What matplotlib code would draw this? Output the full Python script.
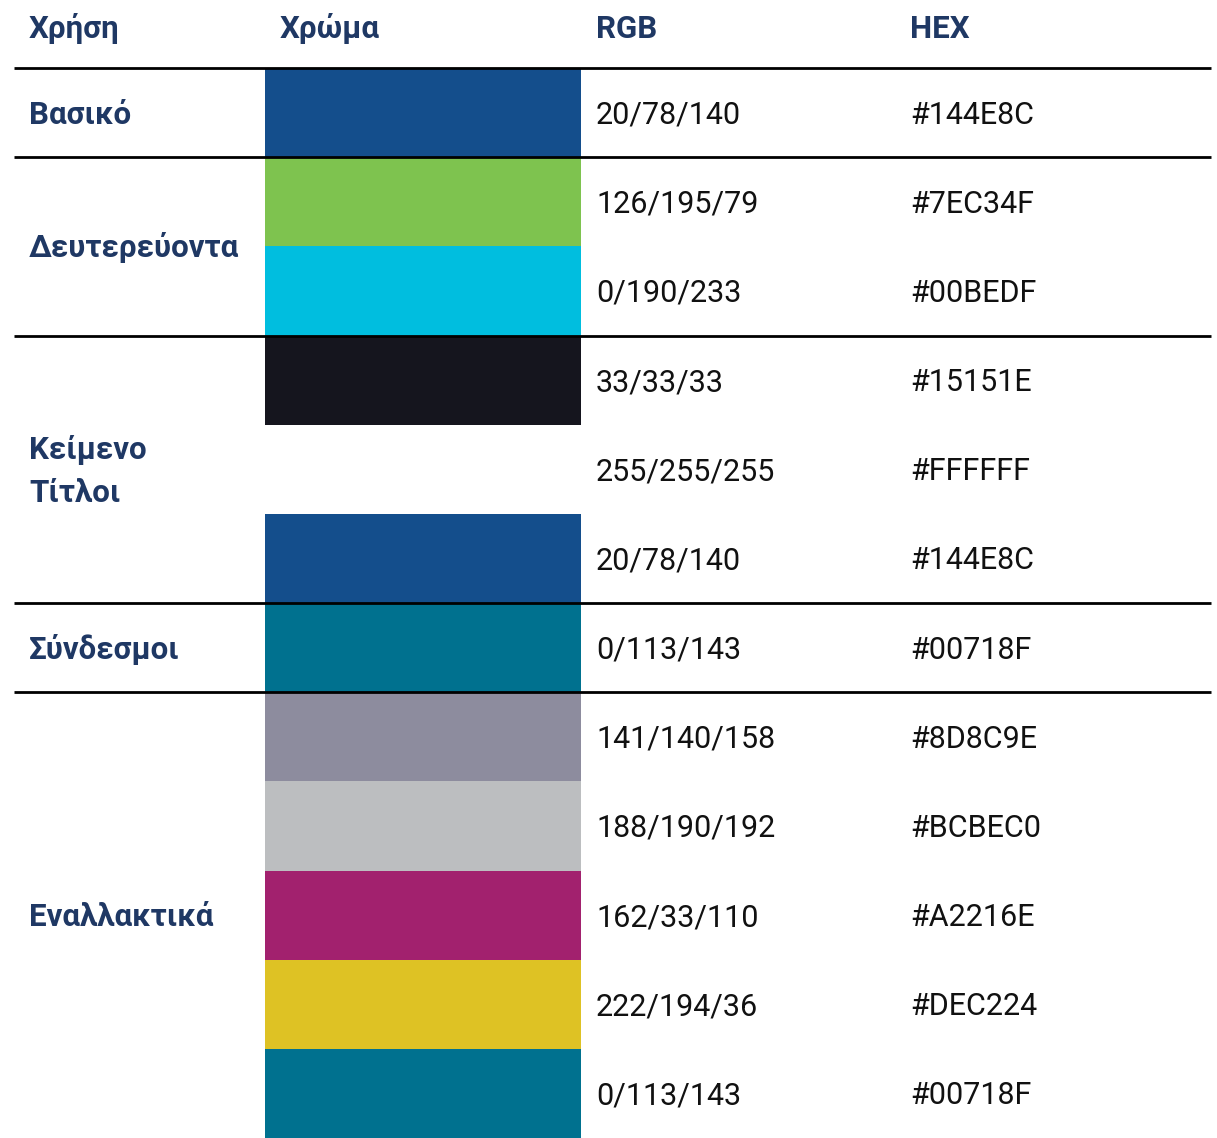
import matplotlib
matplotlib.use("Agg")
import matplotlib.pyplot as plt
from matplotlib.patches import Rectangle

# ---- data ----
headers = ["Χρήση", "Χρώμα", "RGB", "HEX"]
groups = ["Βασικό", "Δευτερεύοντα", "Κείμενο\nΤίτλοι", "Σύνδεσμοι", "Εναλλακτικά"]
group_sizes = [1, 2, 3, 1, 5]
rgb_labels = ["20/78/140", "126/195/79", "0/190/233", "33/33/33", "255/255/255",
              "20/78/140", "0/113/143", "141/140/158", "188/190/192", "162/33/110",
              "222/194/36", "0/113/143"]
hex_labels = ["#144E8C", "#7EC34F", "#00BEDF", "#15151E", "#FFFFFF",
              "#144E8C", "#00718F", "#8D8C9E", "#BCBEC0", "#A2216E",
              "#DEC224", "#00718F"]

# ---- layout / style ----
W, H = 1217, 1138
top0 = 68
n_rows = len(hex_labels)
rh = (H - top0) / n_rows
col_x = [29, 280, 596, 910]
sw_x0, sw_x1 = 265, 581
line_x0, line_x1 = 14, 1211
head_color = "#1F3864"
body_color = "#111111"
fs_head = 22.5
fs_body = 22
cap_px = 22

fig = plt.figure(figsize=(W / 100, H / 100), dpi=100)
ax = fig.add_axes([0, 0, 1, 1])
ax.set_xlim(0, W)
ax.set_ylim(H, 0)
ax.axis("off")

# headers
for x, t in zip(col_x, headers):
    ax.text(x, 38, t, fontsize=fs_head, fontweight="bold", color=head_color,
            family=["Roboto", "DejaVu Sans"], va="baseline", ha="left")

# swatches and values
for i, (rgb, hx) in enumerate(zip(rgb_labels, hex_labels)):
    top = top0 + i * rh
    ax.add_patch(Rectangle((sw_x0, top), sw_x1 - sw_x0, rh, facecolor=hx,
                           edgecolor="none", zorder=1))
    base = top + rh / 2 + cap_px / 2
    ax.text(col_x[2], base, rgb, fontsize=fs_body, color=body_color,
            family=["Roboto", "DejaVu Sans"], va="baseline", ha="left")
    ax.text(col_x[3], base, hx, fontsize=fs_body, color=body_color,
            family=["Roboto", "DejaVu Sans"], va="baseline", ha="left")

# group labels and lines
line_ys = [top0]
start = 0
for g, n in zip(groups, group_sizes):
    center = top0 + (start + n / 2) * rh
    parts = g.split("\n")
    gap = 43
    for k, p in enumerate(parts):
        yc = center + (k - (len(parts) - 1) / 2) * gap
        ax.text(col_x[0], yc + cap_px / 2, p, fontsize=fs_head, fontweight="bold",
                color=head_color, family=["Roboto", "DejaVu Sans"],
                va="baseline", ha="left")
    start += n
    if start < n_rows:
        line_ys.append(top0 + start * rh)

ax.hlines(line_ys, line_x0, line_x1, colors="black", linewidth=2, zorder=3)

fig.savefig("out.png", dpi=100)
